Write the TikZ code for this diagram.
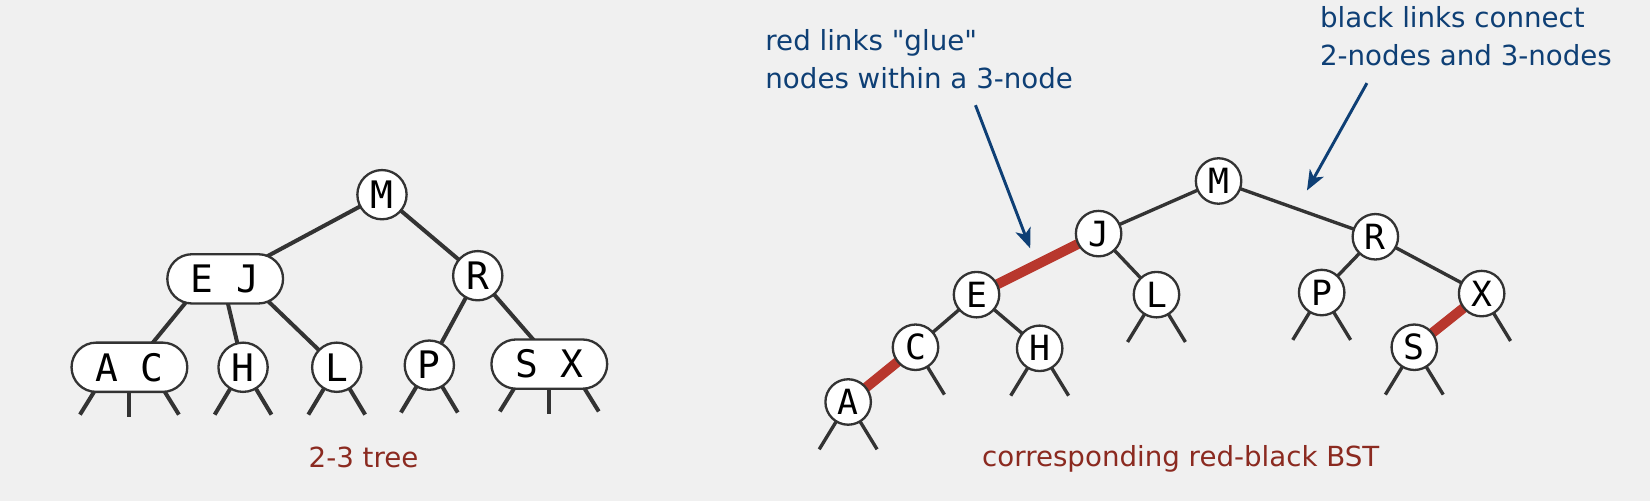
\documentclass[tikz,border=0pt]{standalone}
\usepackage{fontspec}
\usetikzlibrary{arrows.meta}
\newfontfamily\lblfont{DejaVu Sans}
\newfontfamily\keyfont{DejaVu Sans Mono}
\definecolor{bgc}{HTML}{F0F0F0}
\definecolor{edgec}{HTML}{333333}
\definecolor{redlink}{HTML}{B8372D}
\definecolor{capc}{HTML}{8B2A20}
\definecolor{annc}{HTML}{0E3F75}
\pgfdeclarelayer{back}
\pgfdeclarelayer{links}
\pgfsetlayers{back,links,main}
\begin{document}
\begin{tikzpicture}[x=0.5pt,y=-0.5pt,
  lnode/.style={circle,draw=edgec,line width=1.1pt,fill=white,minimum size=23.4pt,inner sep=0pt,font=\keyfont\fontsize{18}{18}\selectfont},
  lthree/.style={rectangle,rounded corners=11.7pt,draw=edgec,line width=1.1pt,fill=white,minimum width=55pt,minimum height=23.4pt,inner sep=0pt,font=\keyfont\fontsize{18}{18}\selectfont},
  rnode/.style={circle,draw=edgec,line width=1.1pt,fill=white,minimum size=21.6pt,inner sep=0pt,font=\keyfont\fontsize{16.5}{16.5}\selectfont},
  ledge/.style={draw=edgec,line width=1.9pt},
  redge/.style={draw=edgec,line width=1.6pt},
  rlink/.style={draw=redlink,line width=4.75pt},
  caption/.style={anchor=base west,inner sep=0pt,text=capc,font=\lblfont\fontsize{13.15}{16}\selectfont},
  annot/.style={anchor=north west,inner sep=0pt,align=left,text=annc},
  annarrow/.style={draw=annc,line width=1.4pt,-{Stealth[length=9.5pt,width=7.5pt,inset=2.5pt]}}
]
\begin{pgfonlayer}{back}
\fill[bgc] (0,0) rectangle (1568,476);
\end{pgfonlayer}
\useasboundingbox (0,0) rectangle (1568,476);

% ---------- 2-3 tree ----------
\node[lnode] (lM) at (363,185) {M};
\node[lthree] (lEJ) at (214,265) {E J};
\node[lnode] (lR) at (454,262) {R};
\node[lthree] (lAC) at (123,349) {A C};
\node[lnode] (lH) at (231,349) {H};
\node[lnode] (lL) at (320,349) {L};
\node[lnode] (lP) at (408,347) {P};
\node[lthree] (lSX) at (522,346) {S X};

\begin{pgfonlayer}{links}
\draw[ledge] (lM.center) -- (lEJ.center);
\draw[ledge] (lM.center) -- (lR.center);
\draw[ledge] ([shift={(-24,6)}]lEJ.center) -- ([shift={(8,-6)}]lAC.center);
\draw[ledge] ([shift={(-3,0)}]lEJ.center) -- (lH.center);
\draw[ledge] ([shift={(24,5)}]lEJ.center) -- (lL.center);
\draw[ledge] (lR.center) -- (lP.center);
\draw[ledge] (lR.center) -- ([shift={(5,0)}]lSX.center);
% leaf stubs
\foreach \n in {lAC,lSX}{
  \draw[ledge] ([shift={(-31.5,20)}]\n.center) -- ([shift={(-47,45)}]\n.center);
  \draw[ledge] ([shift={(0,20)}]\n.center) -- ([shift={(0,47)}]\n.center);
  \draw[ledge] ([shift={(31.5,20)}]\n.center) -- ([shift={(47,45)}]\n.center);
}
\foreach \n in {lH,lL,lP}{
  \draw[ledge] (\n.center) -- ([shift={(-27,45)}]\n.center);
  \draw[ledge] (\n.center) -- ([shift={(27,45)}]\n.center);
}
\end{pgfonlayer}

\node[caption] (cap1) at (293,444) {2-3 tree};

% ---------- red-black BST ----------
\node[rnode] (M) at (1158,172) {M};
\node[rnode] (J) at (1044,222) {J};
\node[rnode] (R) at (1307,225) {R};
\node[rnode] (E) at (928,280) {E};
\node[rnode] (L) at (1099,280) {L};
\node[rnode] (P) at (1256,278) {P};
\node[rnode] (X) at (1408,279) {X};
\node[rnode] (C) at (870,330) {C};
\node[rnode] (H) at (988,331) {H};
\node[rnode] (S) at (1344,330) {S};
\node[rnode] (A) at (806,382) {A};

\begin{pgfonlayer}{links}
\draw[redge] (M.center) -- (J.center);
\draw[redge] (M.center) -- (R.center);
\draw[redge] (J.center) -- (L.center);
\draw[redge] (E.center) -- (C.center);
\draw[redge] (E.center) -- (H.center);
\draw[redge] (R.center) -- (P.center);
\draw[redge] (R.center) -- (X.center);
\draw[rlink] (J.center) -- (E.center);
\draw[rlink] (C.center) -- (A.center);
\draw[rlink] (X.center) -- (S.center);
\foreach \n in {A,H,L,P,S}{
  \draw[redge] (\n.center) -- ([shift={(-27.5,45)}]\n.center);
  \draw[redge] (\n.center) -- ([shift={(27.5,45)}]\n.center);
}
\foreach \n in {C,X}{
  \draw[redge] (\n.center) -- ([shift={(27.5,45)}]\n.center);
}
\end{pgfonlayer}

\node[caption] (cap2) at (933,443) {corresponding red-black BST};

% ---------- annotations ----------
\node[annot,font=\lblfont\fontsize{13.15}{17.7}\selectfont] (ann1) at (727,28) {red links "glue"\\nodes within a 3-node};
\node[annot,font=\lblfont\fontsize{13.15}{18}\selectfont] (ann2) at (1254,6) {black links connect\\2-nodes and 3-nodes};
\coordinate (a1s) at (927,100);
\coordinate (a1e) at (979,236);
\coordinate (a2s) at (1299,79);
\coordinate (a2e) at (1242,181);
\draw[annarrow] (a1s) -- (a1e);
\draw[annarrow] (a2s) -- (a2e);
\end{tikzpicture}
\end{document}
